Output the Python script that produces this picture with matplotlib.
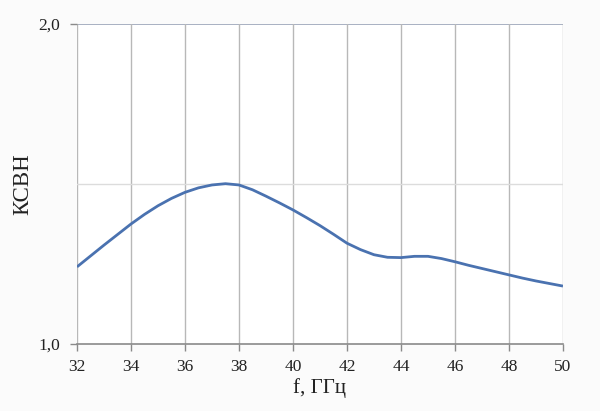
import matplotlib
matplotlib.use("Agg")
import matplotlib.pyplot as plt
from matplotlib.ticker import FixedLocator

freq = [32, 32.5, 33, 33.5, 34, 34.5, 35, 35.5, 36, 36.5, 37, 37.5, 38, 38.5,
        39, 39.5, 40, 40.5, 41, 41.5, 42, 42.5, 43, 43.5, 44, 44.5, 45, 45.5,
        46, 46.5, 47, 47.5, 48, 48.5, 49, 49.5, 50]
vswr = [1.241, 1.275, 1.309, 1.342, 1.375, 1.405, 1.432, 1.455, 1.474, 1.488,
        1.497, 1.501, 1.497, 1.482, 1.462, 1.441, 1.419, 1.395, 1.370, 1.343,
        1.315, 1.295, 1.279, 1.271, 1.270, 1.274, 1.274, 1.267, 1.257, 1.246,
        1.236, 1.226, 1.216, 1.206, 1.197, 1.189, 1.181]
xticks = [32, 34, 36, 38, 40, 42, 44, 46, 48, 50]
yticks = [1.0, 2.0]
ytick_labels = ["1,0", "2,0"]

plt.rcParams['font.family'] = ['Liberation Serif', 'DejaVu Serif']

fig = plt.figure(figsize=(6.0, 4.11), dpi=100, facecolor='#fbfbfb')
ax = fig.add_axes([0.1283, 0.163, 0.81, 0.7786])
ax.set_facecolor('white')

ax.set_xlim(32, 50)
ax.set_ylim(1.0, 2.0)
ax.xaxis.set_major_locator(FixedLocator(xticks))
ax.yaxis.set_major_locator(FixedLocator(yticks))
ax.set_yticklabels(ytick_labels)
ax.yaxis.set_minor_locator(FixedLocator([1.5]))

ax.grid(True, axis='x', which='major', color='#b8b8b8', linewidth=1.0)
ax.grid(True, axis='y', which='minor', color='#dcdcdc', linewidth=1.0)
ax.axhline(2.0, color='#9aa3b8', linewidth=1.2, zorder=1)

for s in ['left', 'top', 'right']:
    ax.spines[s].set_visible(False)
ax.spines['bottom'].set_color('#8a8a8a')
ax.spines['bottom'].set_linewidth(1.2)

ax.tick_params(axis='x', length=5, width=1, color='#8a8a8a', pad=6,
               labelsize=12.5, labelcolor='#222222')
ax.tick_params(axis='y', which='major', length=5, width=1, color='#8a8a8a',
               pad=7, labelsize=12.5, labelcolor='#222222')
ax.tick_params(axis='y', which='minor', length=0)

ax.plot(freq, vswr, color='#4a72b0', linewidth=2.0, zorder=3,
        solid_capstyle='butt')

ax.set_xlabel('f, ГГц', fontsize=15, color='#222222', labelpad=2)
ax.set_ylabel('КСВН', fontsize=16.5, color='#222222', labelpad=4)

fig.savefig('out.png', dpi=100, facecolor=fig.get_facecolor())
